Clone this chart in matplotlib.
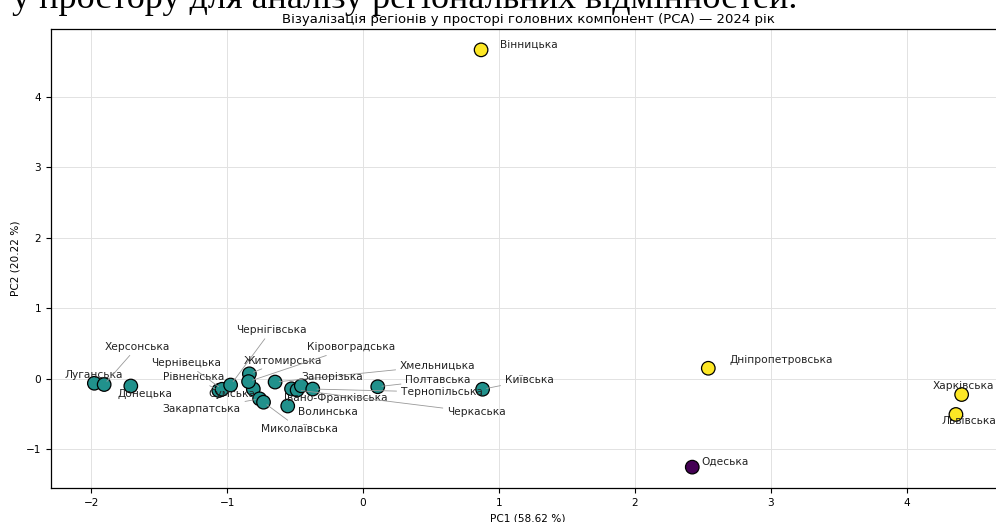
import matplotlib
matplotlib.use("Agg")
import matplotlib.pyplot as plt

plt.rcParams['font.family'] = ['DejaVu Sans']

# PCA coordinates
regions = ["Луганська", "Херсонська", "Донецька", "Рівненська", "Чернівецька",
           "Сумська", "Чернігівська", "Житомирська", "Кіровоградська", "Закарпатська",
           "Миколаївська", "Хмельницька", "Волинська", "Івано-Франківська", "Черкаська",
           "Запорізька", "Тернопільська", "Полтавська", "Київська", "Вінницька",
           "Дніпропетровська", "Харківська", "Львівська", "Одеська"]
pc1 = [-1.976, -1.904, -1.708, -1.061, -1.037,
       -0.807, -0.974, -0.836, -0.842, -0.761,
       -0.732, -0.647, -0.554, -0.526, -0.485,
       -0.454, -0.370, 0.108, 0.879, 0.868,
       2.539, 4.402, 4.360, 2.421]
pc2 = [-0.067, -0.085, -0.106, -0.170, -0.152,
       -0.149, -0.092, 0.067, -0.043, -0.288,
       -0.336, -0.050, -0.390, -0.146, -0.163,
       -0.104, -0.149, -0.116, -0.152, 4.667,
       0.146, -0.227, -0.510, -1.258]
cluster = [1, 1, 1, 1, 1,
           1, 1, 1, 1, 1,
           1, 1, 1, 1, 1,
           1, 1, 1, 1, 2,
           2, 2, 2, 0]

# label placement (label centre in data units) and whether a leader line is drawn
label_x = [-1.982, -1.658, -1.601, -1.245, -1.303,
           -0.966, -0.674, -0.592, -0.090, -1.186,
           -0.469, 0.548, -0.261, -0.200, 0.833,
           -0.227, 0.578, 0.550, 1.221, 1.221,
           3.076, 4.418, 4.454, 2.665]
label_y = [0.057, 0.454, -0.217, 0.018, 0.223,
           -0.217, 0.691, 0.255, 0.444, -0.435,
           -0.714, 0.184, -0.478, -0.274, -0.478,
           0.018, -0.194, -0.018, -0.018, 4.738,
           0.265, -0.113, -0.605, -1.177]
leader = [False, True, False, True, True,
          False, True, True, True, True,
          True, True, False, False, True,
          False, True, True, True, False,
          False, False, False, False]

fig = plt.figure(figsize=(9.96, 5.22), dpi=100)
ax = fig.add_axes([51 / 996, 34 / 522, 954 / 996, 459 / 522])

ax.scatter(pc1, pc2, c=cluster, cmap='viridis', vmin=0, vmax=2, s=95,
           edgecolors='black', linewidths=0.9, zorder=3)

for i, name in enumerate(regions):
    if leader[i]:
        ax.annotate(name, xy=(pc1[i], pc2[i]), xytext=(label_x[i], label_y[i]),
                    ha='center', va='center', fontsize=7.7, color='#222222', zorder=4,
                    arrowprops=dict(arrowstyle='-', color='#999999', lw=0.6,
                                    shrinkA=1, shrinkB=3))
    else:
        ax.text(label_x[i], label_y[i], name, ha='center', va='center',
                fontsize=7.7, color='#222222', zorder=4)

ax.grid(True, color='#e2e2e2', linewidth=0.7)
ax.set_axisbelow(True)
ax.tick_params(labelsize=7.6, width=0.8, length=3.5)
for sp in ax.spines.values():
    sp.set_linewidth(0.9)

ax.set_xlabel("PC1 (58.62 %)", fontsize=7.6)
ax.set_ylabel("PC2 (20.22 %)", fontsize=7.6)
ax.set_title("Візуалізація регіонів у просторі головних компонент (PCA) — 2024 рік",
             fontsize=9.5, pad=4)

# cropped line of document text above the chart
fig.text(797 / 996, 1 - 8 / 522, "у простору для аналізу регіональних відмінностей.",
         ha='right', va='baseline', fontsize=26, family='Liberation Serif', color='black')

fig.savefig("out.png", dpi=100)
